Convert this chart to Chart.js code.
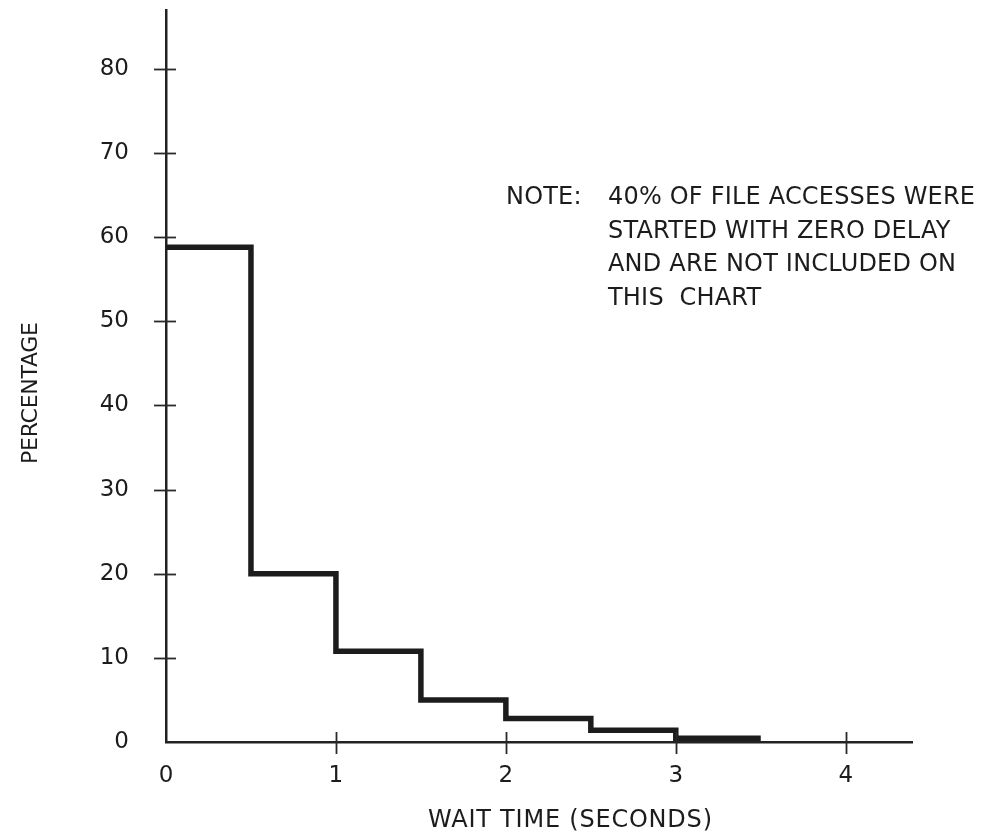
<!DOCTYPE html>
<html>
<head>
<meta charset="utf-8">
<script src="https://cdn.jsdelivr.net/npm/chart.js@4.4.1/dist/chart.umd.min.js"></script>
<style>
  html, body { margin: 0; padding: 0; background: #ffffff; }
  #wrap { width: 998px; height: 837px; position: relative; }
</style>
</head>
<body>
<div id="wrap"><canvas id="c" width="998" height="837"></canvas></div>
<script>
// ---- data ----
const binStarts = [0, 0.5, 1, 1.5, 2, 2.5, 3, 3.5];      // wait time (s), step edges
const percentages = [58.8, 20, 10.8, 5, 2.8, 1.4, 0.45]; // percentage per half-second bin
const xTickValues = [0, 1, 2, 3, 4];
const yTickValues = [0, 10, 20, 30, 40, 50, 60, 70, 80];
const xTitle = 'WAIT TIME (SECONDS)';
const yTitle = 'PERCENTAGE';
const noteLabel = 'NOTE:';
const noteLines = ['40% OF FILE ACCESSES WERE', 'STARTED WITH ZERO DELAY', 'AND ARE NOT INCLUDED ON', 'THIS  CHART'];

const points = binStarts.map((x, i) => ({ x: x, y: percentages[Math.min(i, percentages.length - 1)] }));

const FONT = '"DejaVu Sans", "Open Sans", sans-serif';
const INK = '#1c1c1c';

// spacing needed so that text fills a given width
function spacingFor(ctx, text, width) {
  ctx.letterSpacing = '0px';
  const w = ctx.measureText(text).width;
  return (width - w) / Math.max(1, text.length - 1);
}
function drawSpaced(ctx, text, x, y, sp, align) {
  ctx.letterSpacing = sp + 'px';
  const w = ctx.measureText(text).width - sp;
  const sx = align === 'center' ? x - w / 2 : x;
  ctx.textAlign = 'left';
  ctx.fillText(text, sx, y);
}

const decorations = {
  id: 'decorations',
  afterDraw(chart) {
    const ctx = chart.ctx;
    const xs = chart.scales.x, ys = chart.scales.y;
    const x0 = xs.getPixelForValue(0), y0 = ys.getPixelForValue(0);
    ctx.save();
    // tick marks crossing the axes
    ctx.strokeStyle = '#2a2a2a';
    ctx.lineWidth = 1.8;
    yTickValues.forEach(v => {
      if (v === 0) return;
      const py = Math.round(ys.getPixelForValue(v)) + 0.5;
      ctx.beginPath(); ctx.moveTo(x0 - 12, py); ctx.lineTo(x0 + 10, py); ctx.stroke();
    });
    xTickValues.forEach(v => {
      if (v === 0) return;
      const px = Math.round(xs.getPixelForValue(v)) + 0.5;
      ctx.beginPath(); ctx.moveTo(px, y0 - 10); ctx.lineTo(px, y0 + 12); ctx.stroke();
    });
    ctx.fillStyle = INK;
    ctx.textBaseline = 'middle';
    // axis titles
    ctx.font = '24px ' + FONT;
    const xsp = spacingFor(ctx, xTitle, 284);
    drawSpaced(ctx, xTitle, 570, 821, xsp, 'center');
    ctx.save();
    ctx.font = '22px ' + FONT;
    ctx.translate(31, 393);
    ctx.rotate(-Math.PI / 2);
    const ysp = spacingFor(ctx, yTitle, 142);
    drawSpaced(ctx, yTitle, 0, 0, ysp, 'center');
    ctx.restore();
    // note
    ctx.font = '24px ' + FONT;
    const nsp = spacingFor(ctx, noteLines[0], 367);
    drawSpaced(ctx, noteLabel, 506, 198, nsp, 'left');
    noteLines.forEach((t, i) => drawSpaced(ctx, t, 608, 198 + i * 33.5, nsp, 'left'));
    ctx.letterSpacing = '0px';
    ctx.restore();
  }
};

new Chart(document.getElementById('c'), {
  type: 'line',
  data: {
    datasets: [{
      data: points,
      stepped: true,
      borderColor: INK,
      borderWidth: 5.5,
      pointRadius: 0,
      fill: false,
      borderJoinStyle: 'miter',
      borderCapStyle: 'butt'
    }]
  },
  options: {
    responsive: false,
    animation: false,
    layout: { padding: { left: 0, top: 10, right: 86, bottom: 0 } },
    plugins: { legend: { display: false }, tooltip: { enabled: false } },
    scales: {
      x: {
        type: 'linear',
        min: 0, max: 4.39,
        afterFit(s) { s.height = 95; s.paddingLeft = 0; s.paddingRight = 0; },
        afterBuildTicks(s) { s.ticks = xTickValues.map(v => ({ value: v })); },
        grid: { display: false, drawTicks: false },
        border: { display: true, color: '#222', width: 2.5 },
        ticks: { color: INK, font: { family: FONT, size: 23 }, padding: 20, maxRotation: 0 },
        title: { display: false, text: xTitle }
      },
      y: {
        type: 'linear',
        min: 0, max: 87,
        afterFit(s) { s.width = 166; s.paddingTop = 0; s.paddingBottom = 0; },
        afterBuildTicks(s) { s.ticks = yTickValues.map(v => ({ value: v })); },
        grid: { display: false, drawTicks: false },
        border: { display: true, color: '#222', width: 2.5 },
        ticks: { color: INK, font: { family: FONT, size: 23 }, padding: 37 },
        title: { display: false, text: yTitle }
      }
    }
  },
  plugins: [decorations]
});
</script>
</body>
</html>
